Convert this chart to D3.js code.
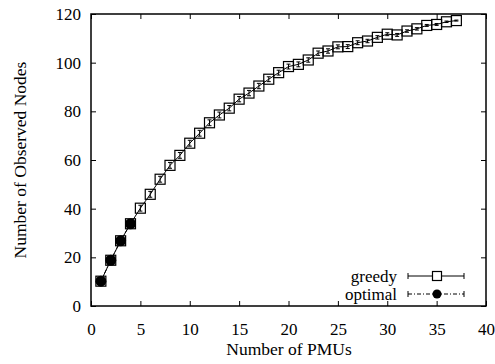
<!DOCTYPE html>
<html>
<head>
<meta charset="utf-8">
<script src="https://cdn.jsdelivr.net/npm/d3@7/dist/d3.min.js"></script>
<style>
  html, body { margin: 0; padding: 0; background: #fff; }
  svg { display: block; }
  text { font-family: "Liberation Serif", "Times New Roman", serif; fill: #000; }
</style>
</head>
<body>
<svg id="chart" width="495" height="364"></svg>
<script>
// Number of PMUs placed
const pmus = d3.range(1, 38);
// Observed nodes, greedy placement (mean)
const greedy = [10.2, 18.8, 26.8, 33.8, 40.2, 45.9, 52.1, 57.8, 61.9, 66.9,
                71.0, 75.3, 78.5, 81.3, 85.0, 87.5, 90.4, 93.2, 95.9, 98.4,
                99.3, 101.1, 103.9, 104.8, 106.5, 106.6, 108.2, 108.9, 110.4, 111.7,
                111.4, 113.0, 113.9, 115.3, 115.7, 116.8, 117.3];
// Spread of the greedy result (half height of error bar)
const greedyErr = [1.2, 1.2, 1.2, 1.2, 1.2, 1.2, 1.2, 1.2, 1.2, 1.2,
                   1.2, 1.2, 1.2, 1.1, 1.1, 1.1, 1.1, 1.0, 1.0, 1.0,
                   1.0, 0.9, 0.9, 0.9, 0.8, 0.8, 0.8, 0.7, 0.7, 0.6,
                   0.6, 0.5, 0.5, 0.4, 0.4, 0.3, 0.2];
// Optimal placement, only computed for small PMU counts
const optimalPmus = [1, 2, 3, 4];
const optimal = [10.2, 18.8, 26.8, 33.8];
const optimalErr = [0.8, 0.8, 0.8, 0.8];

const xTicks = [0, 5, 10, 15, 20, 25, 30, 35, 40];
const yTicks = [0, 20, 40, 60, 80, 100, 120];

const svg = d3.select("#chart");
const plot = { left: 91, top: 14, right: 486, bottom: 306 };

const x = d3.scaleLinear().domain([0, 40]).range([plot.left, plot.right]);
const y = d3.scaleLinear().domain([0, 120]).range([plot.bottom, plot.top]);

// Axes with inward ticks, mirrored on top and right
const tickLen = 5;
const fs = 17;
const bottomAxis = d3.axisBottom(x).tickValues(xTicks).tickSize(-tickLen).tickPadding(17).tickFormat(d3.format("d"));
const topAxis = d3.axisTop(x).tickValues(xTicks).tickSize(-tickLen).tickFormat("");
const leftAxis = d3.axisLeft(y).tickValues(yTicks).tickSize(-tickLen).tickPadding(10).tickFormat(d3.format("d"));
const rightAxis = d3.axisRight(y).tickValues(yTicks).tickSize(-tickLen).tickFormat("");

function style(g) {
  g.select(".domain").remove();
  g.selectAll(".tick line").attr("stroke", "#000").attr("stroke-width", 1);
  g.selectAll(".tick text").attr("font-family", "Liberation Serif, serif").attr("font-size", fs).attr("fill", "#000");
}
svg.append("g").attr("transform", `translate(0,${plot.bottom})`).call(bottomAxis).call(style);
svg.append("g").attr("transform", `translate(0,${plot.top})`).call(topAxis).call(style);
svg.append("g").attr("transform", `translate(${plot.left},0)`).call(leftAxis).call(style);
svg.append("g").attr("transform", `translate(${plot.right},0)`).call(rightAxis).call(style);

// Frame
svg.append("rect")
  .attr("x", plot.left).attr("y", plot.top)
  .attr("width", plot.right - plot.left).attr("height", plot.bottom - plot.top)
  .attr("fill", "none").attr("stroke", "#000").attr("stroke-width", 1.5);

// Axis titles
svg.append("text")
  .attr("x", 289).attr("y", 355)
  .attr("text-anchor", "middle").attr("font-size", 17.5)
  .text("Number of PMUs");
svg.append("text")
  .attr("transform", "translate(26,160) rotate(-90)")
  .attr("text-anchor", "middle").attr("font-size", 17.5)
  .text("Number of Observed Nodes");

const line = d3.line().x(d => x(d[0])).y(d => y(d[1]));
const cap = 2;
const sq = 10;

function errorBars(g, xs, vs, es) {
  const data = xs.map((p, i) => [p, vs[i], es[i]]);
  const eb = g.append("g").attr("stroke", "#000").attr("stroke-width", 1);
  eb.selectAll("line.v").data(data).join("line").attr("class", "v")
    .attr("x1", d => x(d[0])).attr("x2", d => x(d[0]))
    .attr("y1", d => y(d[1] - d[2])).attr("y2", d => y(d[1] + d[2]));
  eb.selectAll("line.lo").data(data).join("line").attr("class", "lo")
    .attr("x1", d => x(d[0]) - cap).attr("x2", d => x(d[0]) + cap)
    .attr("y1", d => y(d[1] - d[2])).attr("y2", d => y(d[1] - d[2]));
  eb.selectAll("line.hi").data(data).join("line").attr("class", "hi")
    .attr("x1", d => x(d[0]) - cap).attr("x2", d => x(d[0]) + cap)
    .attr("y1", d => y(d[1] + d[2])).attr("y2", d => y(d[1] + d[2]));
}

// Greedy series
const gGreedy = svg.append("g");
gGreedy.append("path")
  .attr("d", line(pmus.map((p, i) => [p, greedy[i]])))
  .attr("fill", "none").attr("stroke", "#000").attr("stroke-width", 1);
errorBars(gGreedy, pmus, greedy, greedyErr);
gGreedy.selectAll("rect").data(pmus.map((p, i) => [p, greedy[i]])).join("rect")
  .attr("x", d => x(d[0]) - sq / 2).attr("y", d => y(d[1]) - sq / 2)
  .attr("width", sq).attr("height", sq)
  .attr("fill", "none").attr("stroke", "#000").attr("stroke-width", 1.2);

// Optimal series
const gOpt = svg.append("g");
gOpt.append("path")
  .attr("d", line(optimalPmus.map((p, i) => [p, optimal[i]])))
  .attr("fill", "none").attr("stroke", "#000").attr("stroke-width", 1)
  .attr("stroke-dasharray", "4,2,1,2");
errorBars(gOpt, optimalPmus, optimal, optimalErr);
gOpt.selectAll("circle").data(optimalPmus.map((p, i) => [p, optimal[i]])).join("circle")
  .attr("cx", d => x(d[0])).attr("cy", d => y(d[1]))
  .attr("r", 5.5).attr("fill", "#000");

// Legend
const legend = svg.append("g");
const lx0 = 408, lx1 = 464, lm = 437;
const entries = [
  { label: "greedy", y: 276, dash: null, marker: "square" },
  { label: "optimal", y: 294, dash: "4,2,1,2", marker: "circle" }
];
entries.forEach(e => {
  legend.append("text").attr("x", 397).attr("y", e.y).attr("dy", "0.33em")
    .attr("text-anchor", "end").attr("font-size", fs).text(e.label);
  legend.append("line").attr("x1", lx0).attr("x2", lx1).attr("y1", e.y).attr("y2", e.y)
    .attr("stroke", "#000").attr("stroke-width", 1).attr("stroke-dasharray", e.dash);
  [lx0, lx1].forEach(cx => legend.append("line")
    .attr("x1", cx).attr("x2", cx).attr("y1", e.y - 3).attr("y2", e.y + 3)
    .attr("stroke", "#000").attr("stroke-width", 1));
  if (e.marker === "square") {
    legend.append("rect").attr("x", lm - 4.5).attr("y", e.y - 4.5)
      .attr("width", 9).attr("height", 9)
      .attr("fill", "#fff").attr("stroke", "#000").attr("stroke-width", 1.2);
  } else {
    legend.append("circle").attr("cx", lm).attr("cy", e.y).attr("r", 4.5).attr("fill", "#000");
  }
});
</script>
</body>
</html>
